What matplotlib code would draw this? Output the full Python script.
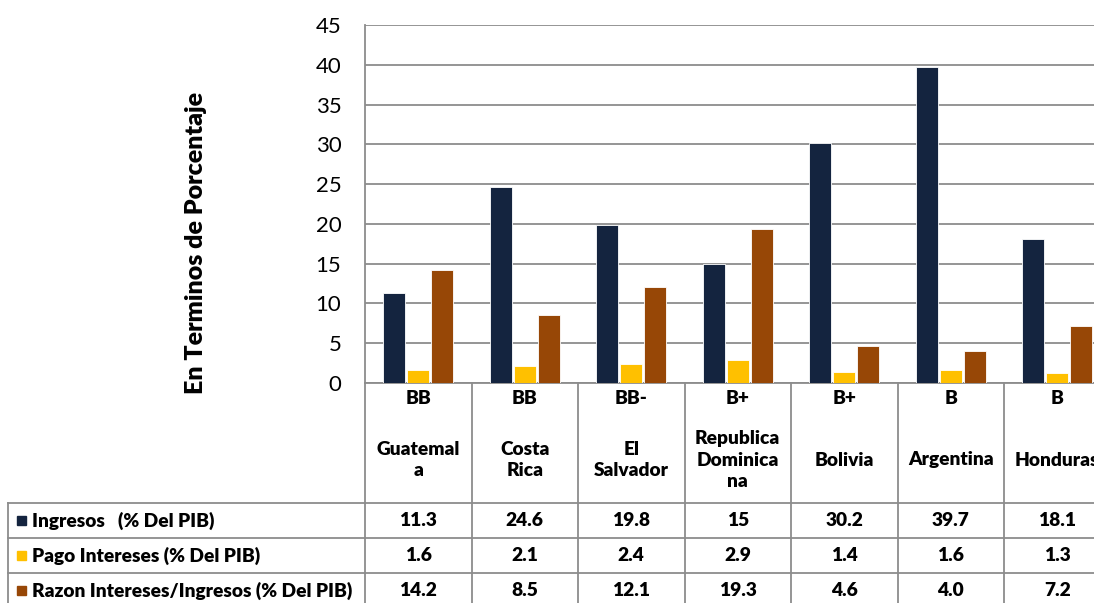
import numpy as np
import matplotlib.pyplot as plt
import matplotlib.transforms as mtransforms

plt.rcParams['font.family'] = ['Lato', 'DejaVu Sans']

countries = ['Guatemal\na', 'Costa\nRica', 'El\nSalvador', 'Republica\nDominica\nna',
             'Bolivia', 'Argentina', 'Honduras']
ratings = ['BB', 'BB', 'BB-', 'B+', 'B+', 'B', 'B']
ingresos = [11.3, 24.6, 19.8, 15, 30.2, 39.7, 18.1]
pago = [1.6, 2.1, 2.4, 2.9, 1.4, 1.6, 1.3]
razon = [14.2, 8.5, 12.1, 19.3, 4.6, 4.0, 7.2]
razon_txt = ['14.2', '8.5', '12.1', '19.3', '4.6', '4.0', '7.2']

series = [
    ('Ingresos   (% Del PIB)', ingresos, '#14243F', [str(v) for v in ingresos]),
    ('Pago Intereses (% Del PIB)', pago, '#FFC000', [str(v) for v in pago]),
    ('Razon Intereses/Ingresos (% Del PIB)', razon, '#974706', razon_txt),
]

W, H = 1094, 603
fig = plt.figure(figsize=(W / 100, H / 100), dpi=100)

# axes wider than the figure on purpose: the last column is cut off like the original
col_px = 106.5
left_px, top_px, zero_px = 365, 25, 383
ax = fig.add_axes([left_px / W, (H - zero_px) / H, 7 * col_px / W, (zero_px - top_px) / H])

x = np.arange(len(countries))
bw, step = 0.205, 0.225
for k, (name, vals, col, _) in enumerate(series):
    ax.bar(x + (k - 1) * step, vals, width=bw, color=col, edgecolor='white', linewidth=0.6, zorder=3)

ax.set_xlim(-0.5, len(countries) - 0.5)
ax.set_ylim(0, 45)
ax.set_yticks(range(0, 46, 5))
ax.set_xticks([])
ax.grid(axis='y', color='#8c8c8c', linewidth=1.3, zorder=0)
for s in ['top', 'right']:
    ax.spines[s].set_visible(False)
for s in ['left', 'bottom']:
    ax.spines[s].set_color('#8c8c8c')
    ax.spines[s].set_linewidth(1.3)
ax.tick_params(axis='y', length=0, pad=17, labelsize=16)
ax.set_ylabel('En Terminos de Porcentaje', fontsize=18, fontweight='heavy')
ax.yaxis.set_label_coords(-158 / (7 * col_px), 0.39)

# table under the chart: x in category units, y in figure fraction
tr = mtransforms.blended_transform_factory(ax.transData, fig.transFigure)
fy = lambda py: (H - py) / H
line_kw = dict(color='#8c8c8c', linewidth=1.3, clip_on=False)
fs = 13.8
fw = 'heavy'

row_edges = [503, 538, 573, 608]
for i in range(len(countries) + 1):
    ax.plot([i - 0.5, i - 0.5], [fy(zero_px), fy(row_edges[-1])], transform=tr, **line_kw)
for py in row_edges:
    ax.plot([-0.5, len(countries) - 0.5], [fy(py), fy(py)], transform=tr, **line_kw)
    fig.add_artist(plt.Line2D([8 / W, left_px / W], [fy(py), fy(py)], color='#8c8c8c', linewidth=1.3))
fig.add_artist(plt.Line2D([8 / W, 8 / W], [fy(row_edges[0]), fy(row_edges[-1])], color='#8c8c8c', linewidth=1.3))

for i in range(len(countries)):
    ax.text(i, fy(398), ratings[i], transform=tr, ha='center', va='center',
            fontsize=fs, fontweight=fw, clip_on=False)
    ax.text(i, fy(460), countries[i], transform=tr, ha='center', va='center',
            fontsize=fs, fontweight=fw, linespacing=1.35, clip_on=False)

for r, (name, vals, col, txt) in enumerate(series):
    yc = fy((row_edges[r] + row_edges[r + 1]) / 2)
    fig.patches.append(plt.Rectangle((17 / W, yc - 4.5 / H), 9 / W, 9 / H, color=col,
                                     transform=fig.transFigure, figure=fig))
    fig.text(32 / W, yc, name, ha='left', va='center', fontsize=fs, fontweight=fw)
    for i in range(len(countries)):
        ax.text(i, yc, txt[i], transform=tr, ha='center', va='center',
                fontsize=fs, fontweight=fw, clip_on=False)

fig.savefig('out.png', dpi=100)
